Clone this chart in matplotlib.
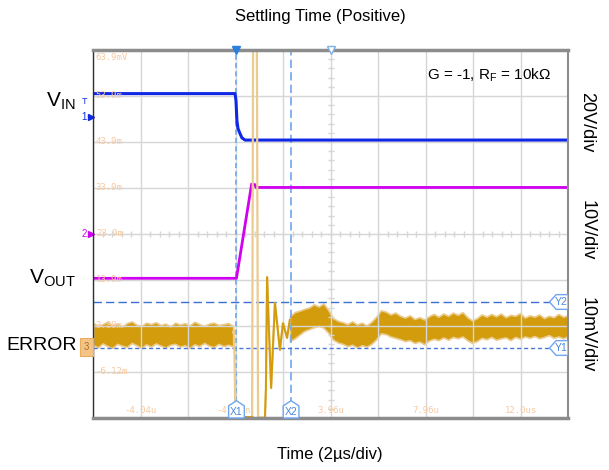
import numpy as np
import matplotlib.pyplot as plt
from matplotlib.patches import Polygon, Rectangle

plt.rcParams['font.family'] = ['Liberation Sans', 'DejaVu Sans']
plt.rcParams['mathtext.fontset'] = 'custom'
plt.rcParams['mathtext.rm'] = 'Liberation Sans'

# screen scale: time in us, vertical in displayed mV (10 mV/div)
t_min, t_max = -6.04, 13.96
v_min, v_max = -16.12, 63.88

# VIN trace (display units)
vin_t = [-6.04, -0.06, -0.02, 0.02, 0.065, 0.15, 0.23, 0.36, 13.96]
vin_v = [54.4, 54.4, 52.9, 48.5, 46.8, 45.7, 44.8, 44.3, 44.3]

# VOUT trace
vout_t = [-6.04, 0.0, 0.64, 0.78, 0.82, 13.96]
vout_v = [14.25, 14.25, 34.75, 34.6, 34.0, 34.0]

# ERROR trace: noise envelope before the step
pre_hi = [4.6, 3.9, 4.3, 4.8, 4.0, 4.4, 3.8, 4.5, 4.9, 4.2, 3.9, 4.6, 4.3, 4.7, 4.1,
          4.4, 3.8, 4.6, 4.2, 4.5, 4.0, 4.8, 4.3, 3.9, 4.4, 4.6, 4.1, 4.3, 4.5, 3.9]
pre_lo = [-0.2, -0.8, 0.1, -0.5, -0.9, 0.0, -0.4, -0.7, 0.2, -0.3, -0.9, -0.1, -0.6, 0.1, -0.4,
          -0.8, -0.2, 0.0, -0.6, -0.3, -0.9, -0.1, -0.5, 0.2, -0.4, -0.7, 0.0, -0.5, -0.2, -0.6]
pre_t = np.linspace(-6.04, -0.14, len(pre_hi))

# ERROR trace: transient (values beyond the screen are clipped)
tr_t = [-0.14, -0.10, -0.06, 0.02, 0.36, 0.66, 0.70, 0.86, 0.91, 1.20, 1.24, 1.29, 1.34,
        1.46, 1.62, 1.83, 1.96, 2.13, 2.25]
tr_v = [2.5, 3.0, -10.0, -40.0, -16.0, -16.0, 64.5, 64.5, -16.0, -16.0, -10.0, 14.5, 7.0,
        -9.6, 8.9, -1.3, 4.5, 1.3, 5.2]

# ERROR trace: noise envelope after settling
post_hi = [6.0, 6.9, 7.2, 7.6, 7.9, 8.6, 8.1, 8.8, 7.4, 5.6, 5.0, 4.7, 4.3, 4.9, 4.2,
           4.6, 4.0, 4.8, 5.9, 7.3, 7.0, 6.4, 6.8, 6.1, 5.7, 6.2, 5.4, 5.8, 5.3, 6.0,
           6.5, 5.9, 6.6, 6.1, 6.8, 6.3, 6.9, 5.8, 5.1, 5.6, 6.4, 5.9, 6.5, 6.0, 6.6,
           5.8, 6.3, 6.1, 6.7, 5.7, 6.2, 5.9, 6.4, 5.6, 6.1, 5.8, 6.5, 5.9, 6.2]
post_lo = [0.6, 1.2, 2.0, 2.8, 3.2, 3.6, 3.9, 3.5, 2.4, 0.9, 0.3, 0.0, -0.5, -0.2, -0.8,
           -0.3, -0.6, 0.0, 1.0, 2.3, 2.1, 1.6, 1.3, 1.0, 0.6, 0.8, 0.2, 0.5, -0.1, 0.7,
           1.1, 0.8, 1.4, 0.9, 1.5, 1.2, 1.6, 0.8, 0.2, 0.6, 1.3, 1.0, 1.5, 0.9, 1.2,
           1.4, 0.8, 1.5, 1.1, 1.6, 1.3, 1.7, 1.2, 1.5, 1.9, 1.3, 1.6, 1.2, 1.7]
post_t = np.linspace(2.25, 13.96, len(post_hi))

# cursors
x1_t, x2_t = 0.0, 2.30
y1_v, y2_v = -0.9, 9.1
trig_t = 3.98

grid_labels_y = ["63.9mV", "53.9m", "43.9m", "33.9m", "23.9m", "13.9m", "3.88m", "-6.12m"]
grid_labels_x = ["-4.04u", "-4|n", "3.96u", "7.96u", "12.0us"]

c_vin = '#1028E6'
c_vout = '#D000F0'
c_err = '#D39C0C'
c_err_lt = '#EBCB8E'
c_cur = '#6FA6EE'
c_lab = '#F7C9A0'

fig = plt.figure(figsize=(6.09, 4.70), dpi=100)
W, H = 609, 470
ax = fig.add_axes([93 / W, 1 - 418 / H, 475 / W, 368 / H])
ax.set_xlim(t_min, t_max)
ax.set_ylim(v_min, v_max)

# graticule
ax.set_xticks(np.arange(t_min, t_max + 0.01, 2.0))
ax.set_yticks(np.arange(v_min, v_max + 0.01, 10.0))
ax.grid(True, color='#D6D6D6', lw=1.0)
ax.tick_params(length=0, labelbottom=False, labelleft=False)
xc, yc = t_min + 10.0, v_min + 40.0
ax.plot(np.full(40, xc), np.arange(v_min, v_max, 2.0), ls='none', marker='_', ms=4,
        color='#D6D6D6', mew=1.0)
ax.plot(np.arange(t_min, t_max, 0.4), np.full(50, yc), ls='none', marker='|', ms=4,
        color='#D6D6D6', mew=1.0)

for sp in ['top', 'bottom']:
    ax.spines[sp].set_color('#8C8C8C')
    ax.spines[sp].set_linewidth(2.5)
ax.spines['right'].set_color('#8C8C8C')
ax.spines['right'].set_linewidth(1.5)
ax.spines['left'].set_color('#303030')
ax.spines['left'].set_linewidth(1.0)

# scale labels inside the screen
for i, s in enumerate(grid_labels_y):
    yy = v_max - 10.0 * i
    va = 'top' if i == 0 else 'center'
    ax.text(t_min + 0.12, yy - (0.6 if i == 0 else 0), s, color=c_lab, fontsize=6.5,
            family='DejaVu Sans Mono', va=va, ha='left')
for i, s in enumerate(grid_labels_x):
    xx = t_min + 2.0 + 4.0 * i
    if '|' in s:
        # partly hidden behind the X1 flag
        left, right = s.split('|')
        ax.text(xx - 0.36, v_min + 1.6, left, color=c_lab, fontsize=6.5,
                family='DejaVu Sans Mono', ha='right', va='center')
        ax.text(xx + 0.38, v_min + 1.6, right, color=c_lab, fontsize=6.5,
                family='DejaVu Sans Mono', ha='left', va='center')
        continue
    ax.text(xx, v_min + 1.6, s, color=c_lab, fontsize=6.5,
            family='DejaVu Sans Mono', ha='center', va='center')

# cursors
ax.axvline(x1_t, color=c_cur, lw=1.2, dashes=(3, 2))
ax.axvline(x2_t, color=c_cur, lw=1.2, dashes=(5, 2.5))
ax.axhline(y2_v, color='#3C6FD2', lw=1.0, dashes=(6, 3))
ax.axhline(y1_v, color='#4A78D6', lw=1.0, dashes=(3, 2))

# traces
ax.plot(vin_t, vin_v, color=c_vin, lw=2.2)
ax.plot(vout_t, vout_v, color=c_vout, lw=2.0)

ax.fill_between(pre_t, pre_lo, pre_hi, color=c_err, lw=1.2, edgecolor=c_err_lt)
ax.fill_between(post_t, post_lo, post_hi, color=c_err, lw=1.2, edgecolor=c_err_lt)
ax.plot(tr_t, tr_v, color=c_err_lt, lw=1.6)
ax.plot(tr_t[9:], tr_v[9:], color=c_err, lw=1.4)
ax.plot(tr_t[3:6], tr_v[3:6], color=c_err, lw=2.0)

# cursor flags
xt = ax.get_xaxis_transform()
for tt, s in [(x1_t, 'X1'), (x2_t, 'X2')]:
    ax.add_patch(Polygon([[tt - 0.33, 0.0], [tt - 0.33, 0.033], [tt, 0.047],
                          [tt + 0.33, 0.033], [tt + 0.33, 0.0]], closed=True,
                         transform=xt, facecolor='white', edgecolor=c_cur, lw=1.0,
                         zorder=5, clip_on=False))
    ax.text(tt, 0.017, s, transform=xt, color='#4A86E0', fontsize=7.5, ha='center',
            va='center', zorder=6)
yt = ax.get_yaxis_transform()
for vv, s in [(y1_v, 'Y1'), (y2_v, 'Y2')]:
    ax.add_patch(Polygon([[0.961, vv], [0.975, vv + 1.6], [1.0, vv + 1.6],
                          [1.0, vv - 1.6], [0.975, vv - 1.6]], closed=True,
                         transform=yt, facecolor='white', edgecolor=c_cur, lw=1.0,
                         zorder=5))
    ax.text(0.986, vv, s, transform=yt, color='#4A86E0', fontsize=7.5, ha='center',
            va='center', zorder=6)

# trigger markers on top edge
ax.plot([x1_t], [1.0], transform=xt, marker='v', ms=6, color='#2C7FE0', clip_on=False,
        zorder=7)
ax.plot([trig_t], [1.0], transform=xt, marker='v', ms=6, mfc='white', mec='#7FB0E8',
        clip_on=False, zorder=7)

# channel markers on the left edge
ax.plot([t_min - 0.1], [49.3], marker='>', ms=5, color=c_vin, clip_on=False)
ax.text(t_min - 0.25, 49.3, '1', color=c_vin, fontsize=7, ha='right', va='center')
ax.text(t_min - 0.25, 52.7, 'T', color=c_vin, fontsize=6.5, ha='right', va='center')
ax.plot([t_min - 0.1], [23.9], marker='>', ms=5, color=c_vout, clip_on=False)
ax.text(t_min - 0.25, 23.9, '2', color=c_vout, fontsize=7, ha='right', va='center')
ax.add_patch(Rectangle((t_min - 0.55, -2.6), 0.55, 3.8, facecolor='#F4C487',
                       edgecolor='#E8AE60', lw=0.8, clip_on=False, zorder=6))
ax.text(t_min - 0.27, -0.7, '3', color='#B07020', fontsize=7, ha='center', va='center',
        zorder=7)

ax.text(0.965, 0.955, r'G = -1, R$_\mathregular{F}$ = 10k$\Omega$', transform=ax.transAxes,
        ha='right', va='top', fontsize=11)

# outside labels
fig.text(320 / W, 1 - 17 / H, 'Settling Time (Positive)', ha='center', va='center',
         fontsize=12)
fig.text(330 / W, 1 - 455 / H, 'Time (2\u00b5s/div)', ha='center', va='center',
         fontsize=12)
fig.text(76 / W, 1 - 101 / H, r'V$_\mathregular{IN}$', ha='right', va='center', fontsize=15)
fig.text(76 / W, 1 - 278 / H, r'V$_\mathregular{OUT}$', ha='right', va='center', fontsize=15)
fig.text(77 / W, 1 - 345 / H, 'ERROR', ha='right', va='center', fontsize=14)
fig.text(587 / W, 1 - 122 / H, '20V/div', ha='center', va='center', fontsize=13,
         rotation=270)
fig.text(587 / W, 1 - 230 / H, '10V/div', ha='center', va='center', fontsize=13,
         rotation=270)
fig.text(587 / W, 1 - 335 / H, '10mV/div', ha='center', va='center', fontsize=13,
         rotation=270)

fig.savefig('out.png', dpi=100)
